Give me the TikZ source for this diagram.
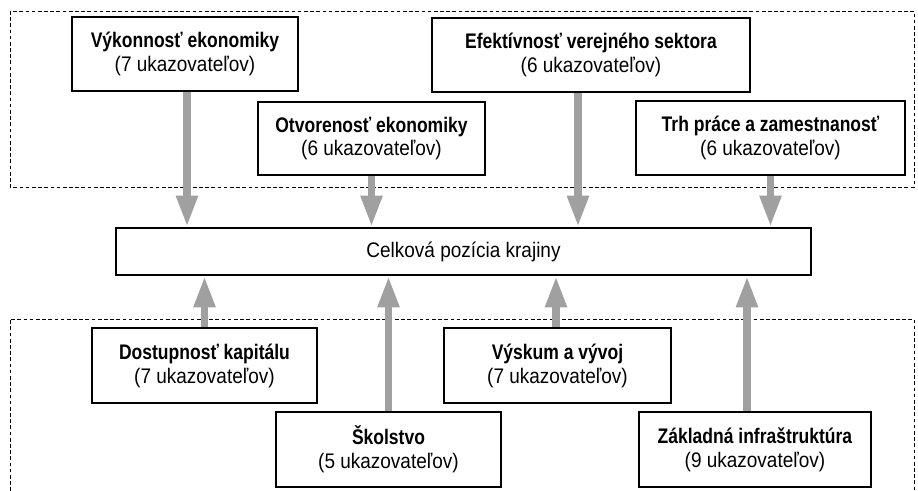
\documentclass[tikz,border=0pt]{standalone}
\usepackage{fontspec}
\setmainfont{Liberation Sans}[FakeStretch=0.9,BoldFeatures={FakeStretch=0.83}]
\usepackage{tikz}
\usetikzlibrary{positioning,calc}
\usetikzlibrary{arrows.meta}
\definecolor{ArrowGray}{RGB}{160,160,160}
\tikzset{
	pillar/.style={draw=black,line width=0.8pt,fill=white,align=center,inner sep=0pt,
		font=\fontsize{15}{17}\selectfont},
	total/.style={draw=black,line width=2pt,fill=white,inner sep=0pt,
		minimum width=695*0.025cm,minimum height=47*0.025cm,font=\fontsize{15}{17}\selectfont},
	group/.style={draw=black,line width=0.7pt,dash pattern=on 2.6pt off 1.8pt},
	flow/.style={draw=ArrowGray,line width=5pt,-{Triangle[length=22pt,width=14.5pt]}},
}
\begin{document}
\begin{tikzpicture}[x=0.025cm,y=-0.025cm]
			\useasboundingbox[fill=white] (0,0) rectangle (918,491);
			\draw[group] (10,11) rectangle (914,187);
			\draw[group] (10,491) -- (10,319) -- (914,319) -- (914,491);
			\node[pillar,minimum width=226*0.025cm,minimum height=74*0.025cm] (vyk) at (185,54)
				{\textbf{Výkonnosť ekonomiky}\\(7 ukazovateľov)};
			\node[pillar,minimum width=227*0.025cm,minimum height=73*0.025cm] (otv) at (371.5,138.5)
				{\textbf{Otvorenosť ekonomiky}\\(6 ukazovateľov)};
			\node[pillar,minimum width=318*0.025cm,minimum height=74*0.025cm] (efe) at (591,55)
				{\textbf{Efektívnosť verejného sektora}\\(6 ukazovateľov)};
			\node[pillar,minimum width=269*0.025cm,minimum height=74*0.025cm] (trh) at (770.5,138)
				{\textbf{Trh práce a zamestnanosť}\\(6 ukazovateľov)};
			\node[total] (cel) at (463.5,251.5) {Celková pozícia krajiny};
			\node[pillar,minimum width=225*0.025cm,minimum height=75*0.025cm] (dos) at (204.5,365.5)
				{\textbf{Dostupnosť kapitálu}\\(7 ukazovateľov)};
			\node[pillar,minimum width=225*0.025cm,minimum height=75*0.025cm] (sko) at (388.5,449.5)
				{\textbf{Školstvo}\\(5 ukazovateľov)};
			\node[pillar,minimum width=227*0.025cm,minimum height=75*0.025cm] (vys) at (557.5,365.5)
				{\textbf{Výskum a vývoj}\\(7 ukazovateľov)};
			\node[pillar,minimum width=232*0.025cm,minimum height=75*0.025cm] (zak) at (755,449.5)
				{\textbf{Základná infraštruktúra}\\(9 ukazovateľov)};
			\foreach \n/\dx in {vyk/2,otv/0,efe/-13,trh/0}{
				\coordinate (\n-out) at ($(\n.south)+(\dx,0)$);
				\draw[flow] (\n-out) -- (\n-out |- cel.north);
			}
			\foreach \n/\dx in {dos/0,sko/0,vys/-1.5,zak/-8}{
				\coordinate (\n-out) at ($(\n.north)+(\dx,0)$);
				\draw[flow] (\n-out) -- (\n-out |- cel.south);
			}
		\end{tikzpicture}
\end{document}
